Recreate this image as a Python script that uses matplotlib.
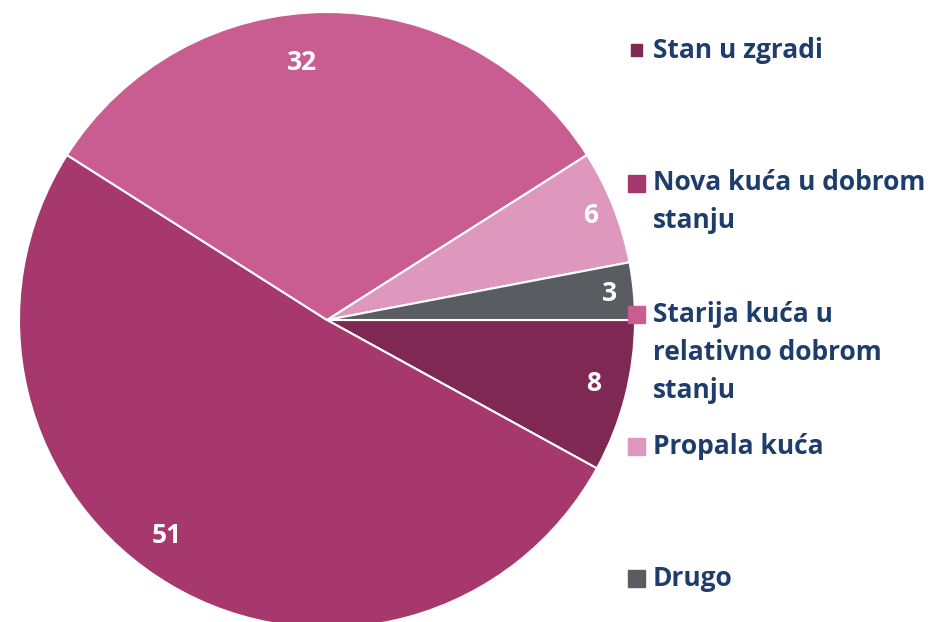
import numpy as np
import matplotlib.pyplot as plt
from matplotlib.patches import Rectangle
from matplotlib import rcParams

rcParams['font.family'] = ['Open Sans', 'DejaVu Sans']

# data
labels = ['Stan u zgradi', 'Nova kuća u dobrom\nstanju',
          'Starija kuća u\nrelativno dobrom\nstanju', 'Propala kuća', 'Drugo']
values = [8, 51, 32, 6, 3]
colors = ['#7F2854', '#A6386E', '#C95D92', '#DE98BD', '#595C60']

# where the value labels sit (fraction of radius, angle shift in degrees)
label_r = [0.89, 0.87, 0.84, 0.92, 0.92]
label_shift = [1, -6, 5.5, 0, 0]

W, H = 932, 622
fig = plt.figure(figsize=(W / 100, H / 100), dpi=100)

# pie centre at (327, 320) px, radius ~308 px
cx, cy, r = 327, 320, 308
ax = fig.add_axes([(cx - r) / W, (H - cy - r) / H, 2 * r / W, 2 * r / H])
wedges, texts, autotexts = ax.pie(
    values, colors=colors, startangle=0, counterclock=False, radius=1,
    autopct=lambda p: f'{p:.0f}', pctdistance=0.86,
    wedgeprops=dict(edgecolor='white', linewidth=1.5),
    textprops=dict(color='white', fontsize=19, fontweight='bold'))
for w, t, rr, sh in zip(wedges, autotexts, label_r, label_shift):
    mid = np.deg2rad((w.theta1 + w.theta2) / 2 + sh)
    t.set_position((rr * np.cos(mid), rr * np.sin(mid)))
ax.set_xlim(-1, 1)
ax.set_ylim(-1, 1)
ax.set_aspect('equal')
ax.axis('off')

# legend drawn by hand
navy = '#1F3D6B'
leg_y = [50, 183, 314, 446, 578]
line_h = 38
for i, (lab, col) in enumerate(zip(labels, colors)):
    y0 = leg_y[i]
    s = 11 if i == 0 else 17
    x0 = 636 - s / 2
    fig.patches.append(Rectangle((x0 / W, (H - y0 - s / 2) / H), s / W, s / H,
                                 transform=fig.transFigure, color=col))
    for k, line in enumerate(lab.split('\n')):
        fig.text(653 / W, (H - y0 - k * line_h) / H, line, color=navy,
                 fontsize=19, fontweight='bold', va='center', ha='left')

fig.savefig('out.png', dpi=100, facecolor='white')
